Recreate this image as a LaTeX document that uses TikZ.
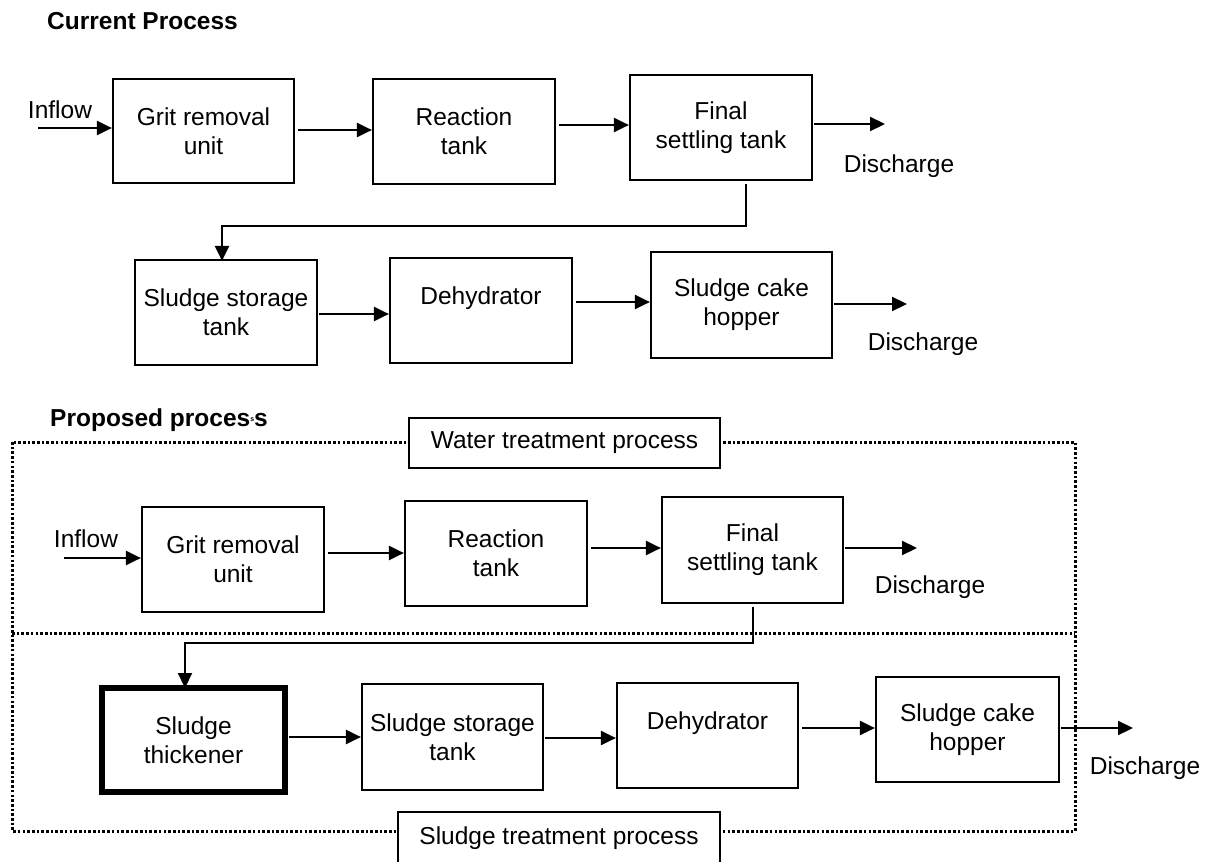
\documentclass[tikz,border=0pt]{standalone}
\usepackage{fontspec}
\setmainfont{Liberation Sans}
\usetikzlibrary{arrows.meta}
\begin{document}
\begin{tikzpicture}[x=1pt,y=-1pt,
  every node/.style={font=\fontsize{24.5}{29}\selectfont},
  box/.style={draw, line width=2.2pt, align=center, inner sep=0pt, fill=white},
  thickbox/.style={box, line width=6pt},
  lbl/.style={draw, line width=1.8pt, align=center, inner sep=0pt, fill=white},
  txt/.style={inner sep=0pt},
  arr/.style={line width=2.2pt, shorten <=3pt, -{Triangle[length=15pt,width=14pt]}},
  frame/.style={line width=3pt, dash pattern=on 2.6pt off 2.1pt}]
\useasboundingbox (0,0) rectangle (1219,862);

% ---------- Current process ----------
\node[txt, anchor=west, font=\fontsize{24.5}{29}\selectfont\bfseries] (titleA) at (47,21) {Current Process};

\node[box, minimum width=181, minimum height=104] (grit1) at (203.5,131) {Grit removal\\unit};
\node[box, minimum width=182, minimum height=105] (reac1) at (464,131.5) {Reaction\\tank};
\node[box, minimum width=182, minimum height=105] (fin1) at (721,127.5) {Final\\settling tank};
\node[box, minimum width=182, minimum height=105] (sst1) at (226,312.5) {Sludge storage\\tank};
\node[box, minimum width=182, minimum height=105] (deh1) at (481,310.5) {Dehydrator\\\mbox{}};
\node[box, minimum width=181, minimum height=106] (cake1) at (741.5,305) {Sludge cake\\hopper};

\node[txt] (inlbl1) at (60,110) {Inflow};
\node[txt] (dis1) at (899,166) {Discharge};
\node[txt] (dis2) at (923,344) {Discharge};

\coordinate (in1) at (38,128);
\coordinate (out1) at (885,124);
\coordinate (out2) at (907,304);
\coordinate (c1) at (746,226);
\coordinate (c2) at (222,226);

\draw[arr, shorten <=0pt] (in1) -- (grit1.west |- in1);
\draw[arr] (grit1.east |- 0,130) -- (reac1.west |- 0,130);
\draw[arr] (reac1.east |- 0,125) -- (fin1.west |- 0,125);
\draw[arr, shorten <=1pt] (fin1.east |- out1) -- (out1);
\draw[arr] (fin1.south -| c1) -- (c1) -- (c2) -- ([yshift=-2pt]sst1.north -| c2);
\draw[arr, shorten <=1pt] (sst1.east |- 0,314) -- (deh1.west |- 0,314);
\draw[arr] (deh1.east |- 0,302) -- (cake1.west |- 0,302);
\draw[arr, shorten <=1pt] (cake1.east |- out2) -- (out2);

% ---------- Proposed process ----------
\node[txt, anchor=west, font=\fontsize{24.5}{29}\selectfont\bfseries] (titleB) at (50,420) {Proposed proces\raisebox{5pt}{\fontsize{7}{7}\selectfont s}s};

\draw[frame] (12,442) rectangle (1075,831);
\draw[frame] (12,633) -- (1075,633);

\node[lbl, minimum width=311, minimum height=50] (wtp) at (564.5,443) {Water treatment process};
\node[lbl, minimum width=322, minimum height=52] (stp) at (559,838) {Sludge treatment process};

\node[box, minimum width=182, minimum height=105] (grit2) at (233,559.5) {Grit removal\\unit};
\node[box, minimum width=182, minimum height=105] (reac2) at (496,553.5) {Reaction\\tank};
\node[box, minimum width=181, minimum height=106] (fin2) at (752.5,550) {Final\\settling tank};
\node[thickbox, minimum width=183, minimum height=104] (thk) at (193.5,740) {Sludge\\thickener};
\node[box, minimum width=181, minimum height=106] (sst2) at (452.5,737) {Sludge storage\\tank};
\node[box, minimum width=181, minimum height=105] (deh2) at (707.5,735.5) {Dehydrator\\\mbox{}};
\node[box, minimum width=183, minimum height=105] (cake2) at (967.5,729.5) {Sludge cake\\hopper};

\node[txt] (inlbl2) at (86,539) {Inflow};
\node[txt] (dis3) at (930,587) {Discharge};
\node[txt] (dis4) at (1145,768) {Discharge};

\coordinate (in2) at (64,558);
\coordinate (out3) at (917,548);
\coordinate (out4) at (1133,728);
\coordinate (c3) at (753,643);
\coordinate (c4) at (185,643);

\draw[arr, shorten <=0pt] (in2) -- (grit2.west |- in2);
\draw[arr] (grit2.east |- 0,553) -- (reac2.west |- 0,553);
\draw[arr] (reac2.east |- 0,548) -- (fin2.west |- 0,548);
\draw[arr, shorten <=1pt] (fin2.east |- out3) -- (out3);
\draw[arr] (fin2.south -| c3) -- (c3) -- (c4) -- ([yshift=-3pt]thk.north -| c4);
\draw[arr, shorten <=1pt] (thk.east |- 0,737) -- (sst2.west |- 0,737);
\draw[arr, shorten <=1pt] (sst2.east |- 0,738) -- (deh2.west |- 0,738);
\draw[arr] (deh2.east |- 0,728) -- (cake2.west |- 0,728);
\draw[arr, shorten <=1pt] (cake2.east |- out4) -- (out4);
\end{tikzpicture}
\end{document}
